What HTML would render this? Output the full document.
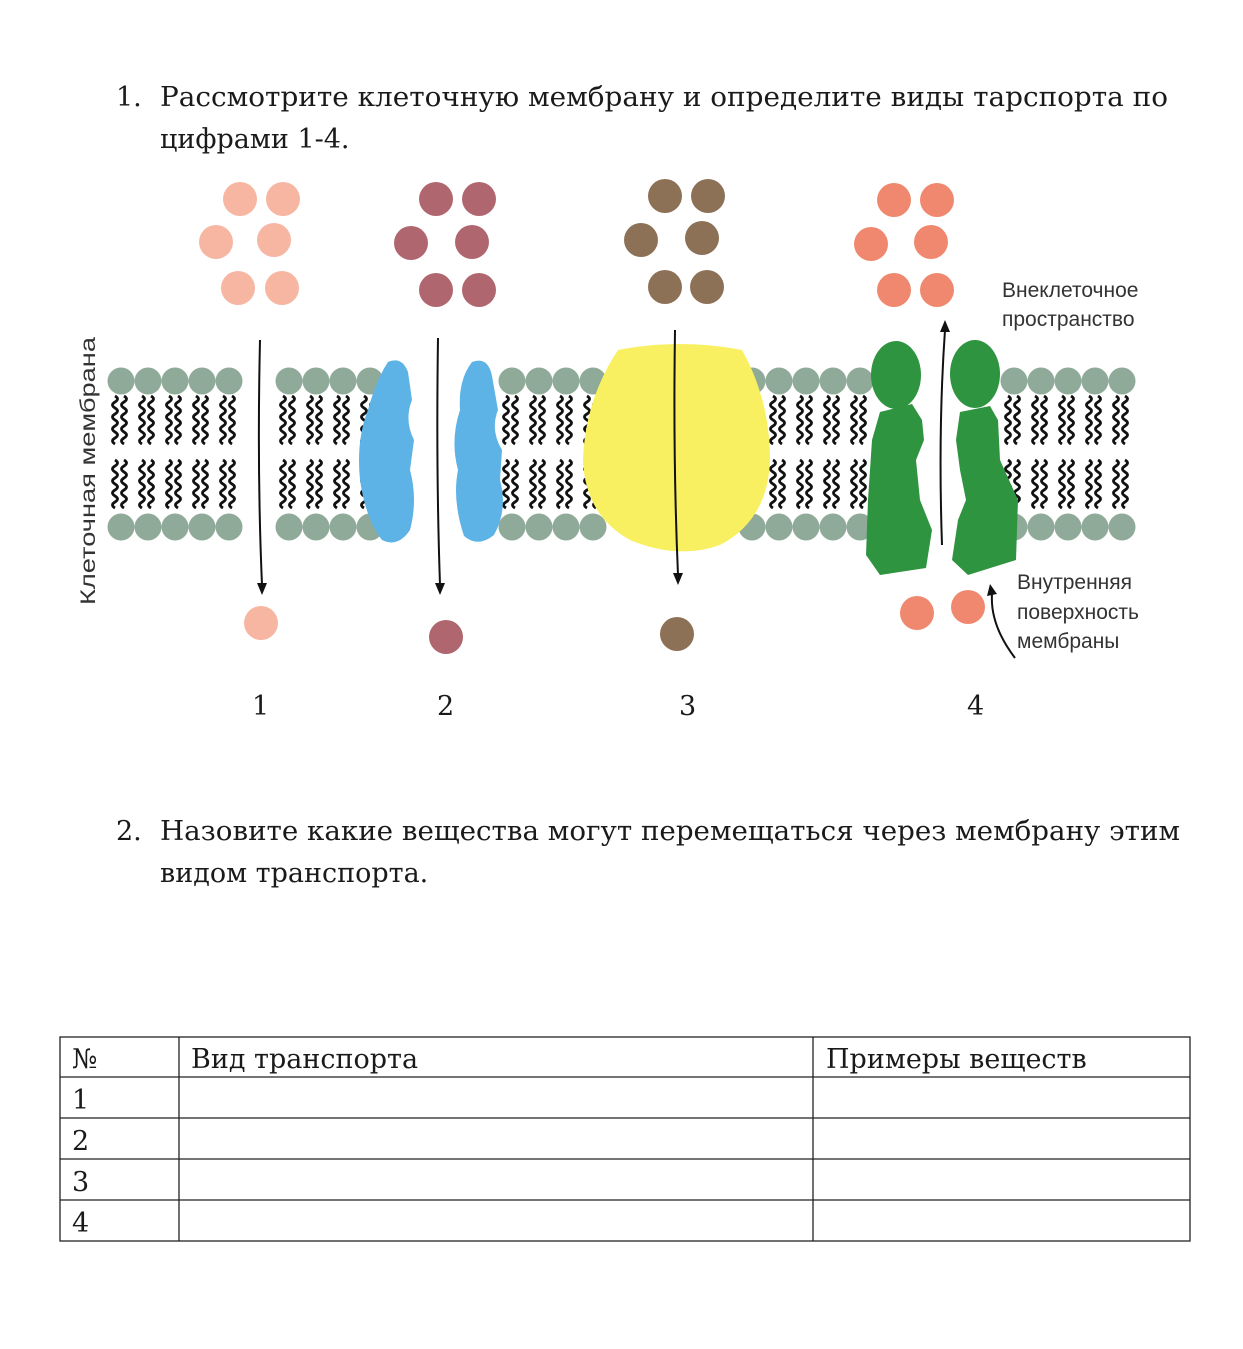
<!DOCTYPE html>
<html><head><meta charset="utf-8"><style>
html,body{margin:0;padding:0;background:#fff;}
svg{display:block}
.t{font-family:"DejaVu Serif","Liberation Serif",serif;font-size:27px;fill:#1a1a1a}
.s{font-family:"Liberation Sans","DejaVu Sans",sans-serif;font-size:21px;fill:#333}
</style></head><body>
<svg width="1243" height="1349" viewBox="0 0 1243 1349" xmlns="http://www.w3.org/2000/svg">
<defs>
<g id="tail" fill="none" stroke="#111" stroke-width="2.8">
 <path d="M0 0 q5 3 0 6 t0 6 t0 6 t0 6 t0 6 t0 6 t0 6 t0 6"/>
</g>
<g id="lip">
 <use href="#tail" x="-6" y="396"/><use href="#tail" x="3" y="396"/>
 <use href="#tail" x="-6" y="460"/><use href="#tail" x="3" y="460"/>
 <circle cx="0" cy="381" r="13.5" fill="#8faa98"/>
 <circle cx="0" cy="527" r="13.5" fill="#8faa98"/>
</g>
</defs>

<text class="t" x="116" y="106">1.</text>
<text class="t" x="160" y="106" textLength="1008" lengthAdjust="spacingAndGlyphs">Рассмотрите клеточную мембрану и определите виды тарспорта по</text>
<text class="t" x="160" y="148">цифрами 1-4.</text>

<g>
<use href="#lip" x="121"/><use href="#lip" x="148"/><use href="#lip" x="175"/><use href="#lip" x="202"/><use href="#lip" x="229"/>
<use href="#lip" x="289"/><use href="#lip" x="316"/><use href="#lip" x="343"/><use href="#lip" x="370"/>
<use href="#lip" x="512"/><use href="#lip" x="539"/><use href="#lip" x="566"/><use href="#lip" x="593"/>
<use href="#lip" x="752"/><use href="#lip" x="779"/><use href="#lip" x="806"/><use href="#lip" x="833"/><use href="#lip" x="860"/>
<use href="#lip" x="1014"/><use href="#lip" x="1041"/><use href="#lip" x="1068"/><use href="#lip" x="1095"/><use href="#lip" x="1122"/>
</g>

<path d="M388 362 Q402 356 408 372 L412 400 Q404 420 414 440 L410 470 Q418 500 410 530 Q398 548 382 540 Q366 520 360 480 Q356 440 368 410 Q376 380 388 362Z" fill="#5db3e6"/>
<path d="M472 362 Q488 356 492 376 L498 410 Q490 430 502 450 L500 480 Q508 510 494 535 Q478 548 464 536 Q452 500 458 470 Q450 440 460 410 Q458 380 472 362Z" fill="#5db3e6"/>

<path d="M618 350 Q680 338 742 350 Q770 400 770 460 Q768 520 720 545 Q678 560 630 540 Q585 515 583 460 Q585 400 618 350Z" fill="#f8f060"/>

<ellipse cx="896" cy="375" rx="25" ry="34" fill="#2e9440"/>
<path d="M880 412 L912 404 L922 420 L924 440 L916 460 L920 500 L932 530 L926 568 L880 575 L866 555 L868 500 L872 440 Z" fill="#2e9440"/>
<ellipse cx="975" cy="374" rx="25" ry="34" fill="#2e9440"/>
<path d="M960 412 L990 406 L998 420 L1000 460 L1018 500 L1016 560 L968 575 L952 560 L958 520 L966 500 L960 470 L956 440 Z" fill="#2e9440"/>

<g fill="#f6b6a2">
<circle cx="240" cy="199" r="17"/><circle cx="283" cy="199" r="17"/><circle cx="216" cy="242" r="17"/><circle cx="274" cy="240" r="17"/><circle cx="238" cy="288" r="17"/><circle cx="282" cy="288" r="17"/><circle cx="261" cy="623" r="17"/>
</g>
<g fill="#b0666f">
<circle cx="436" cy="199" r="17"/><circle cx="479" cy="199" r="17"/><circle cx="411" cy="243" r="17"/><circle cx="472" cy="242" r="17"/><circle cx="436" cy="290" r="17"/><circle cx="479" cy="290" r="17"/><circle cx="446" cy="637" r="17"/>
</g>
<g fill="#8c7157">
<circle cx="665" cy="196" r="17"/><circle cx="708" cy="196" r="17"/><circle cx="641" cy="240" r="17"/><circle cx="702" cy="238" r="17"/><circle cx="665" cy="287" r="17"/><circle cx="707" cy="287" r="17"/><circle cx="677" cy="634" r="17"/>
</g>
<g fill="#f0886f">
<circle cx="894" cy="200" r="17"/><circle cx="937" cy="200" r="17"/><circle cx="871" cy="244" r="17"/><circle cx="931" cy="242" r="17"/><circle cx="894" cy="290" r="17"/><circle cx="937" cy="290" r="17"/><circle cx="917" cy="613" r="17"/><circle cx="968" cy="607" r="17"/>
</g>

<g stroke="#111" stroke-width="2" fill="none">
<path d="M260 340 Q257 470 262 585"/>
<path d="M438 338 Q436 470 440 585"/>
<path d="M675 330 Q673 460 678 575"/>
<path d="M942 545 Q938 430 945 330"/>
<path d="M1015 658 Q990 625 992 594"/>
</g>
<g fill="#111">
<path d="M257 583 L267 583 L262 595Z"/>
<path d="M435 583 L445 583 L440 595Z"/>
<path d="M673 573 L683 573 L678 585Z"/>
<path d="M940 332 L950 332 L945 320Z"/>
<path d="M987 596 L997 594 L990 584Z"/>
</g>

<text class="s" x="1002" y="297">Внеклеточное</text>
<text class="s" x="1002" y="326">пространство</text>
<text class="s" x="1017" y="589">Внутренняя</text>
<text class="s" x="1017" y="619">поверхность</text>
<text class="s" x="1017" y="648">мембраны</text>
<text class="s" transform="translate(95,605) rotate(-90)" textLength="268" lengthAdjust="spacingAndGlyphs">Клеточная мембрана</text>

<text class="t" x="252" y="715">1</text>
<text class="t" x="437" y="715">2</text>
<text class="t" x="679" y="715">3</text>
<text class="t" x="967" y="715">4</text>

<text class="t" x="116" y="840">2.</text>
<text class="t" x="160" y="840" textLength="1020" lengthAdjust="spacingAndGlyphs">Назовите какие вещества могут перемещаться через мембрану этим</text>
<text class="t" x="160" y="882">видом транспорта.</text>

<g stroke="#222" stroke-width="1.3" fill="none">
<rect x="60" y="1037" width="1130" height="204"/>
<line x1="60" y1="1077" x2="1190" y2="1077"/>
<line x1="60" y1="1118" x2="1190" y2="1118"/>
<line x1="60" y1="1159" x2="1190" y2="1159"/>
<line x1="60" y1="1200" x2="1190" y2="1200"/>
<line x1="179" y1="1037" x2="179" y2="1241"/>
<line x1="813" y1="1037" x2="813" y2="1241"/>
</g>
<text class="t" x="72" y="1068">№</text>
<text class="t" x="191" y="1068">Вид транспорта</text>
<text class="t" x="826" y="1068">Примеры веществ</text>
<text class="t" x="72" y="1109">1</text>
<text class="t" x="72" y="1150">2</text>
<text class="t" x="72" y="1191">3</text>
<text class="t" x="72" y="1232">4</text>
</svg>
</body></html>
